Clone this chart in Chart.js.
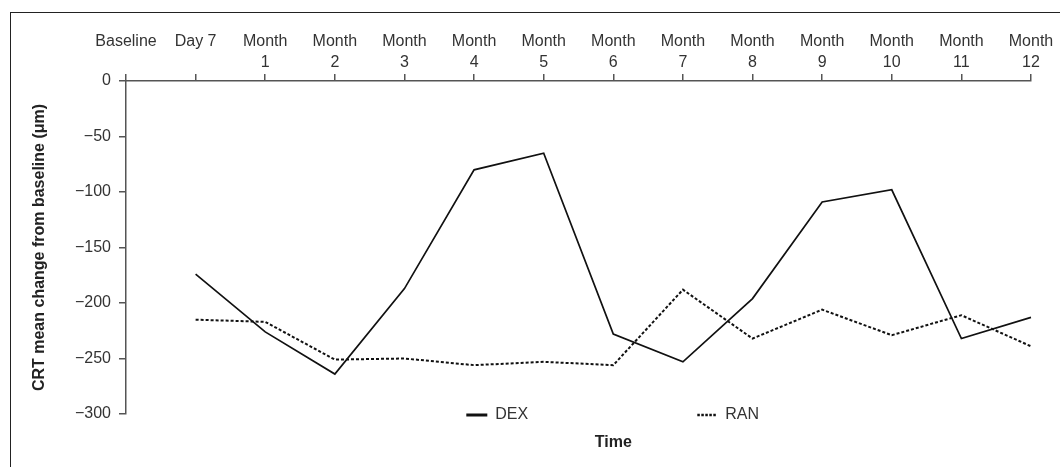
<!DOCTYPE html>
<html>
<head>
<meta charset="utf-8">
<script src="https://cdn.jsdelivr.net/npm/chart.js@4"></script>
<style>
  html, body { margin: 0; padding: 0; background: #fff; overflow: hidden; }
  #frame { position: absolute; left: 10px; top: 12px; width: 1100px; height: 500px;
           border-left: 1.5px solid #222; border-top: 1.5px solid #222; }
  #myChart { position: absolute; left: 0; top: 0; }
</style>
</head>
<body>
<div id="frame"></div>
<canvas id="myChart" width="1060" height="467"></canvas>
<script>
// time points on the top axis
var timeLabels = [
  ['Baseline', ''], ['Day 7', ''],
  ['Month', '1'], ['Month', '2'], ['Month', '3'], ['Month', '4'],
  ['Month', '5'], ['Month', '6'], ['Month', '7'], ['Month', '8'],
  ['Month', '9'], ['Month', '10'], ['Month', '11'], ['Month', '12']
];

// CRT mean change from baseline (um)
var dexValues = [null, -174, -226, -264, -187, -80, -65, -228, -253, -196, -109, -98, -232, -213];
var ranValues = [null, -215, -217, -251, -250, -256, -253, -256, -188, -232, -206, -229, -211, -239];

var yTickValues = [0, -50, -100, -150, -200, -250, -300];

var fontFamily = '"Liberation Sans", Arial, sans-serif';

// legend + x title, centred under the Month 6 tick
var bottomLegend = {
  id: 'bottomLegend',
  afterDraw: function(chart) {
    var ctx = chart.ctx;
    var area = chart.chartArea;
    var cx = chart.scales.x.getPixelForValue(7);
    var ly = area.bottom + 1;
    ctx.save();
    ctx.textBaseline = 'middle';
    ctx.textAlign = 'left';
    ctx.font = '16px ' + fontFamily;
    ctx.fillStyle = '#333';

    // DEX
    ctx.strokeStyle = '#111';
    ctx.lineWidth = 3;
    ctx.setLineDash([]);
    ctx.beginPath();
    ctx.moveTo(cx - 147, ly);
    ctx.lineTo(cx - 126, ly);
    ctx.stroke();
    ctx.fillText('DEX', cx - 118, ly);

    // RAN
    ctx.lineWidth = 2.5;
    ctx.setLineDash([2.5, 1.5]);
    ctx.beginPath();
    ctx.moveTo(cx + 84, ly);
    ctx.lineTo(cx + 103, ly);
    ctx.stroke();
    ctx.setLineDash([]);
    ctx.fillText('RAN', cx + 112, ly);

    ctx.font = 'bold 16px ' + fontFamily;
    ctx.textAlign = 'center';
    ctx.fillStyle = '#222';
    ctx.fillText('Time', cx, area.bottom + 29);
    ctx.restore();
  }
};

function chart() {
  const ctx = document.getElementById('myChart');
  new Chart(ctx, {
    type: 'line',
    data: {
      labels: timeLabels,
      datasets: [{
        label: 'DEX',
        data: dexValues,
        borderColor: '#111',
        borderWidth: 1.7,
        pointRadius: 0,
        tension: 0,
        fill: false
      }, {
        label: 'RAN',
        data: ranValues,
        borderColor: '#111',
        borderWidth: 2,
        borderDash: [3, 2],
        pointRadius: 0,
        tension: 0,
        fill: false
      }]
    },
    options: {
      responsive: false,
      animation: false,
      layout: { padding: { left: 0, top: 0, right: 29, bottom: 53 } },
      plugins: {
        legend: { display: false },
        tooltip: { enabled: false }
      },
      scales: {
        x: {
          position: 'top',
          offset: false,
          afterFit: function(scale) { scale.height = 81; },
          grid: { drawOnChartArea: false, drawTicks: true, tickLength: 7, color: '#555', lineWidth: 1.5 },
          border: { display: true, color: '#555', width: 1.5 },
          ticks: {
            color: '#333',
            padding: 1,
            maxRotation: 0,
            autoSkip: false,
            font: { family: fontFamily, size: 16, lineHeight: 1.3 }
          }
        },
        y: {
          min: -300,
          max: 0,
          afterFit: function(scale) { scale.width = 126; },
          afterBuildTicks: function(scale) {
            scale.ticks = yTickValues.map(function(v) { return { value: v }; });
          },
          grid: { drawOnChartArea: false, drawTicks: true, tickLength: 7, color: '#555', lineWidth: 1.5 },
          border: { display: true, color: '#555', width: 1.5 },
          ticks: {
            color: '#333',
            padding: 8,
            font: { family: fontFamily, size: 16 },
            callback: function(v) { return v < 0 ? '\u2212' + Math.abs(v) : String(v); }
          },
          title: {
            display: true,
            text: 'CRT mean change from baseline (\u03bcm)',
            color: '#222',
            padding: { top: 30, bottom: 0 },
            font: { family: fontFamily, size: 16, weight: 'bold' }
          }
        }
      }
    },
    plugins: [bottomLegend]
  });
}

chart();
</script>
</body>
</html>
